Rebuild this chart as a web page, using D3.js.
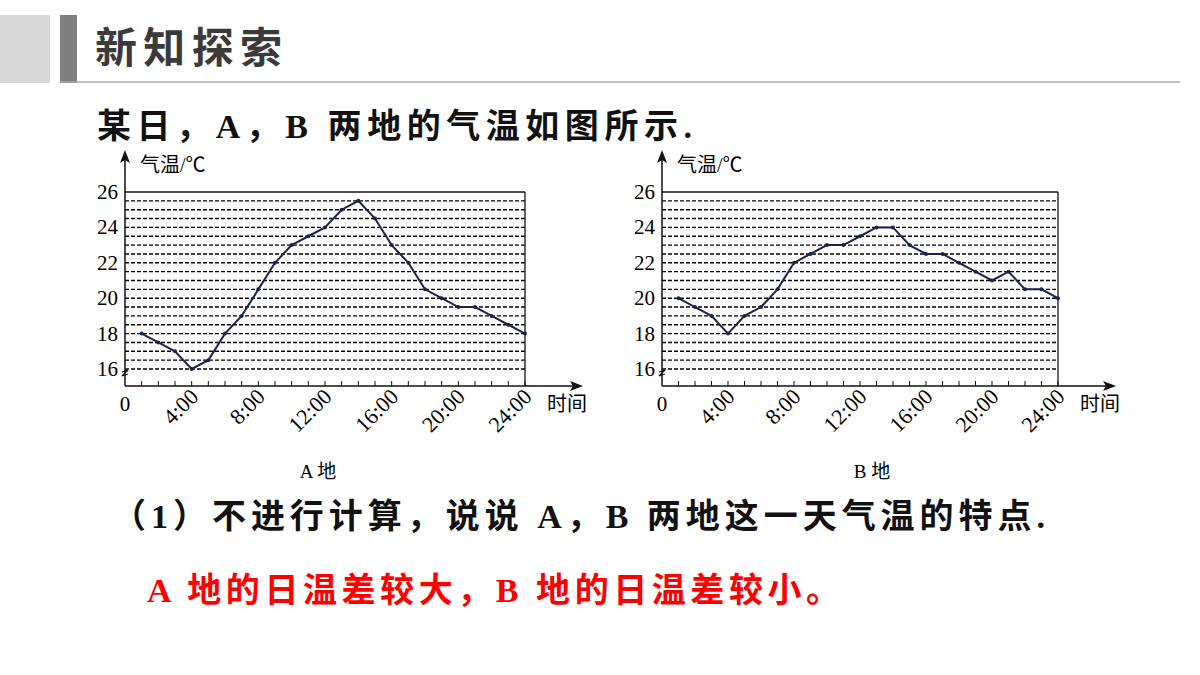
<!DOCTYPE html><html><head><meta charset="utf-8"><script src="https://cdn.jsdelivr.net/npm/d3@7"></script>
<style>body{margin:0;background:#fff}svg{display:block}</style></head><body><svg id="s" width="1200" height="675"></svg>
<script>
const hours=d3.range(1,25);
const tempA=[18,17.5,17,16,16.5,18,19,20.5,22,23,23.5,24,25,25.5,24.5,23,22,20.5,20,19.5,19.5,19,18.5,18];
const tempB=[20,19.5,19,18,19,19.5,20.5,22,22.5,23,23,23.5,24,24,23,22.5,22.5,22,21.5,21,21.5,20.5,20.5,20];
const yTicks=[16,18,20,22,24,26];
const xTicks=[4,8,12,16,20,24];
const svg=d3.select("#s");
const cjk="'Liberation Serif','Noto Sans CJK SC',sans-serif", serif="'Liberation Serif','Noto Serif CJK SC',serif";
svg.append("rect").attr("x",0).attr("y",15).attr("width",50).attr("height",68).attr("fill","#d9d9d9");
svg.append("rect").attr("x",60).attr("y",15).attr("width",17).attr("height",68).attr("fill","#7f7f7f");
svg.append("text").attr("x",95).attr("y",63).attr("font-family",cjk).attr("font-weight","bold").attr("font-size",42).attr("fill","#3a3a3a").attr("textLength",187).attr("lengthAdjust","spacing").text("新知探索");
svg.append("line").attr("x1",60).attr("x2",1180).attr("y1",82).attr("y2",82).attr("stroke","#aaa").attr("stroke-width",1.5);
svg.append("text").attr("x",97).attr("y",138).attr("font-family",cjk).attr("font-weight","bold").attr("font-size",34).attr("fill","#111").attr("textLength",595).attr("lengthAdjust","spacing").text("某日，A，B 两地的气温如图所示.");
svg.append("text").attr("x",112).attr("y",528).attr("font-family",cjk).attr("font-weight","bold").attr("font-size",34).attr("fill","#111").attr("textLength",933).attr("lengthAdjust","spacing").text("（1）不进行计算，说说 A，B 两地这一天气温的特点.");
svg.append("text").attr("x",147).attr("y",602).attr("font-family",cjk).attr("font-weight","bold").attr("font-size",34).attr("fill","#ff0000").attr("textLength",693).attr("lengthAdjust","spacing").text("A 地的日温差较大，B 地的日温差较小。");

function chart(x0,x1,data,label,lx){
  const g=svg.append("g");
  const x=d3.scaleLinear().domain([0,24]).range([x0,x1]);
  const y=d3.scaleLinear().domain([16,26]).range([369,192]);
  const yb=386;
  const gl=d3.range(16,26,0.5);
  g.selectAll(".gd").data(gl).join("line").attr("x1",x0).attr("x2",x1).attr("y1",d=>y(d)).attr("y2",d=>y(d))
   .attr("stroke","#000").attr("stroke-width",1.4).attr("stroke-dasharray","4,2");
  g.append("line").attr("x1",x0).attr("x2",x1).attr("y1",y(26)).attr("y2",y(26)).attr("stroke","#111").attr("stroke-width",1.3);
  g.append("line").attr("x1",x1).attr("x2",x1).attr("y1",y(26)).attr("y2",yb).attr("stroke","#111").attr("stroke-width",1.3);
  g.append("line").attr("x1",x0).attr("x2",x1+50).attr("y1",yb).attr("y2",yb).attr("stroke","#111").attr("stroke-width",1.5);
  g.append("path").attr("d",`M${x1+58},${yb} l-13,-5 l3,5 l-3,5z`).attr("fill","#111");
  g.append("line").attr("x1",x0).attr("x2",x0).attr("y1",yb).attr("y2",158).attr("stroke","#111").attr("stroke-width",1.5);
  g.append("path").attr("d",`M${x0},150 l-5,13 l5,-3 l5,3z`).attr("fill","#111");
  g.append("path").attr("d",`M${x0-3},${yb-14} l6,-2 l-6,6 l6,-2`).attr("fill","none").attr("stroke","#111").attr("stroke-width",1.2);
  g.selectAll(".tk").data(hours).join("line").attr("x1",d=>x(d)).attr("x2",d=>x(d)).attr("y1",yb).attr("y2",yb-5).attr("stroke","#111");
  g.selectAll(".yt").data(yTicks).join("text").attr("x",x0-7).attr("y",d=>y(d)+7).attr("text-anchor","end")
   .attr("font-family",serif).attr("font-size",21).text(d=>d);
  g.selectAll(".xt").data(xTicks).join("text").attr("font-family",serif).attr("font-size",22).attr("text-anchor","end")
   .attr("transform",d=>`translate(${x(d)+8},${yb+12}) rotate(-45)`).text(d=>d+":00");
  g.append("text").attr("x",x0).attr("y",yb+25).attr("text-anchor","middle").attr("font-family",serif).attr("font-size",21).text("0");
  g.append("text").attr("x",x1+22).attr("y",yb+25).attr("font-family",cjk).attr("font-size",20).text("时间");
  g.append("text").attr("x",x0+15).attr("y",172).attr("font-family",cjk).attr("font-size",20).text("气温/℃");
  const ln=d3.line().x((d,i)=>x(hours[i])).y(d=>y(d));
  g.append("path").attr("d",ln(data)).attr("fill","none").attr("stroke","#1a2350").attr("stroke-width",2);
  g.selectAll(".pt").data(data).join("circle").attr("cx",(d,i)=>x(hours[i])).attr("cy",d=>y(d)).attr("r",2).attr("fill","#1a2350");
  svg.append("text").attr("x",lx).attr("y",478).attr("text-anchor","middle").attr("font-family",cjk).attr("font-size",19).text(label);
}
chart(125,525,tempA,"A 地",318);
chart(662,1058,tempB,"B 地",872);
</script></body></html>
